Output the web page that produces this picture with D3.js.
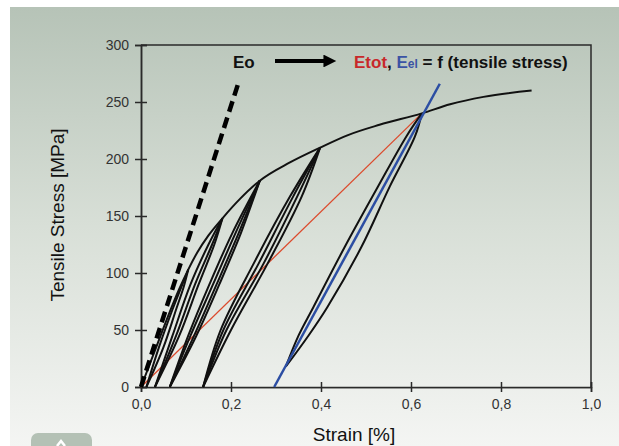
<!DOCTYPE html>
<html>
<head>
<meta charset="utf-8">
<title>Tensile stress - strain</title>
<script src="https://cdn.jsdelivr.net/npm/d3@7"></script>
<style>
  body { margin: 0; background: #fff; }
  svg text { font-family: "Liberation Sans", Arial, sans-serif; }
</style>
</head>
<body>
<svg id="chart" width="619" height="446"></svg>
<script>
// ---- data (strain %, stress MPa) ----
var strainTicks = [0, 0.2, 0.4, 0.6, 0.8, 1.0];
var stressTicks = [0, 50, 100, 150, 200, 250, 300];

// monotonic loading envelope
var envelope = [[0,0],[0.03,31],[0.06,62],[0.085,86],[0.105,103],[0.125,118],[0.15,133],
  [0.181,148],[0.22,165],[0.264,181],[0.331,197],[0.398,210],[0.46,221],[0.53,230],
  [0.624,240],[0.687,248],[0.761,254.5],[0.868,260]];

// Eo line (dashed)
var eoLine = [[0,0],[0.215,265]];
// secant modulus Etot (red)
var etotLine = [[0,0],[0.624,240]];
// elastic modulus Eel (blue)
var eelLine = [[0.296,0],[0.664,266]];

// unloading / reloading branches
var loop1 = [
  [[0.012,0],[0.04,35],[0.07,68],[0.09,88],[0.105,103]],
  [[0.012,0],[0.05,35],[0.078,68],[0.095,88],[0.105,103]]
];
var loop2 = [
  [[0.031,0],[0.07,45],[0.11,90],[0.15,125],[0.181,148]],
  [[0.031,0],[0.078,45],[0.12,90],[0.158,125],[0.181,148]],
  [[0.031,0],[0.085,45],[0.128,90],[0.163,125],[0.181,148]]
];
var loop3 = [
  [[0.064,0],[0.105,45],[0.152,90],[0.203,135],[0.264,181]],
  [[0.064,0],[0.11,45],[0.16,90],[0.21,135],[0.264,181]],
  [[0.064,0],[0.118,45],[0.168,90],[0.217,135],[0.264,181]],
  [[0.064,0],[0.123,45],[0.174,90],[0.222,135],[0.264,181]]
];
var loop4 = [
  [[0.138,0],[0.177,50],[0.25,108],[0.331,167],[0.398,210]],
  [[0.138,0],[0.183,50],[0.261,108],[0.338,167],[0.398,210]],
  [[0.138,0],[0.19,50],[0.272,108],[0.347,167],[0.398,210]],
  [[0.138,0],[0.2,50],[0.281,108],[0.357,167],[0.398,210]]
];
var loop5 = [
  [[0.322,18],[0.35,45],[0.383,70],[0.453,123],[0.527,176],[0.59,220],[0.624,240]],
  [[0.322,18],[0.372,45],[0.414,70],[0.49,123],[0.553,176],[0.609,220],[0.624,240]]
];
var loops = [loop1, loop2, loop3, loop4, loop5];

// ---- drawing ----
var svg = d3.select("#chart");
var defs = svg.append("defs");

var grad = defs.append("linearGradient").attr("id", "bg")
  .attr("x1", 0).attr("y1", 0).attr("x2", 0).attr("y2", 1);
grad.append("stop").attr("offset", "0%").attr("stop-color", "#b6c3b7");
grad.append("stop").attr("offset", "50%").attr("stop-color", "#d8dfd7");
grad.append("stop").attr("offset", "100%").attr("stop-color", "#f4f5f3");

defs.append("clipPath").attr("id", "labclip")
  .append("rect").attr("x", 0).attr("y", 0).attr("width", 601).attr("height", 446);

defs.append("marker").attr("id", "arrow")
  .attr("viewBox", "0 0 10 10").attr("refX", 2).attr("refY", 5)
  .attr("markerWidth", 4).attr("markerHeight", 3.2)
  .attr("markerUnits", "strokeWidth").attr("orient", "auto")
  .append("path").attr("d", "M0,0L10,5L0,10z").attr("fill", "#000");

// panel
svg.append("rect").attr("x", 10).attr("y", 7).attr("width", 609).attr("height", 439)
  .attr("fill", "url(#bg)");

var x = d3.scaleLinear().domain([0, 1]).range([141, 591]);
var y = d3.scaleLinear().domain([0, 300]).range([387, 45]);

var fmt = function(d){ return d3.format(".1f")(d).replace(".", ","); };

// axes: outward ticks with labels, plus inward ticks
svg.append("g").attr("transform", "translate(0," + y(0) + ")")
  .attr("clip-path", "url(#labclip)")
  .call(d3.axisBottom(x).tickValues(strainTicks).tickFormat(fmt).tickSizeOuter(0).tickSize(5).tickPadding(7));
svg.append("g").attr("transform", "translate(0," + y(0) + ")")
  .call(d3.axisBottom(x).tickValues(strainTicks).tickFormat("").tickSizeOuter(0).tickSize(-5));
svg.append("g").attr("transform", "translate(" + x(0) + ",0)")
  .call(d3.axisLeft(y).tickValues(stressTicks).tickSizeOuter(0).tickSize(6).tickPadding(6));
svg.append("g").attr("transform", "translate(" + x(0) + ",0)")
  .call(d3.axisLeft(y).tickValues(stressTicks).tickFormat("").tickSizeOuter(0).tickSize(-6));

svg.selectAll(".domain, .tick line").attr("stroke", "#2a2a2a").attr("stroke-width", 1.5);
svg.selectAll(".tick text").attr("fill", "#333").style("font-size", "14px")
  .style("font-family", "'Liberation Sans', Arial, sans-serif");

// frame top and right
svg.append("path")
  .attr("d", "M" + x(0) + "," + y(300) + "H" + x(1) + "V" + y(0))
  .attr("fill", "none").attr("stroke", "#2a2a2a").attr("stroke-width", 1.5);

var line = d3.line().x(function(d){ return x(d[0]); }).y(function(d){ return y(d[1]); })
  .curve(d3.curveCatmullRom.alpha(0.5));
var smooth = d3.line().x(function(d){ return x(d[0]); }).y(function(d){ return y(d[1]); })
  .curve(d3.curveMonotoneX);

var plot = svg.append("g");

plot.append("path").datum(etotLine).attr("d", line)
  .attr("fill", "none").attr("stroke", "#dc4a2c").attr("stroke-width", 1.3);

loops.forEach(function(lp){
  plot.selectAll(null).data(lp).enter().append("path")
    .attr("d", line).attr("fill", "none")
    .attr("stroke", "#111").attr("stroke-width", 2);
});

plot.append("path").datum(envelope).attr("d", smooth)
  .attr("fill", "none").attr("stroke", "#111").attr("stroke-width", 2);

plot.append("path").datum(eelLine).attr("d", line)
  .attr("fill", "none").attr("stroke", "#2c4ea3").attr("stroke-width", 2.5);

plot.append("path").datum(eoLine).attr("d", line)
  .attr("fill", "none").attr("stroke", "#000").attr("stroke-width", 4.5)
  .attr("stroke-dasharray", "11,6");

// annotation
svg.append("text").attr("x", 233).attr("y", 68).style("font-size", "17px")
  .style("font-weight", "bold").attr("fill", "#111").text("Eo");
svg.append("line").attr("x1", 275).attr("y1", 61).attr("x2", 326).attr("y2", 61)
  .attr("stroke", "#000").attr("stroke-width", 4).attr("marker-end", "url(#arrow)");

var ann = svg.append("text").attr("x", 354).attr("y", 68)
  .style("font-size", "17px").style("font-weight", "bold").attr("fill", "#111");
ann.append("tspan").attr("fill", "#c8282a").text("Etot");
ann.append("tspan").text(", ");
ann.append("tspan").attr("fill", "#3b53a4").text("E");
ann.append("tspan").attr("fill", "#3b53a4").style("font-size", "12px").text("el");
ann.append("tspan").text(" = f (tensile stress)");

// axis titles
svg.append("text").attr("x", 354).attr("y", 441).attr("text-anchor", "middle")
  .style("font-size", "19px").attr("fill", "#111").text("Strain [%]");
svg.append("text").attr("transform", "translate(64,215) rotate(-90)")
  .attr("text-anchor", "middle").style("font-size", "19px").attr("fill", "#111")
  .text("Tensile Stress [MPa]");

// little tab at the bottom left
svg.append("rect").attr("x", 31).attr("y", 433).attr("width", 61).attr("height", 24)
  .attr("rx", 7).attr("fill", "#b4c1b5");
svg.append("path").attr("d", "M57,446L61,441L65,446").attr("fill", "none")
  .attr("stroke", "#fff").attr("stroke-width", 2.5);
</script>
</body>
</html>
